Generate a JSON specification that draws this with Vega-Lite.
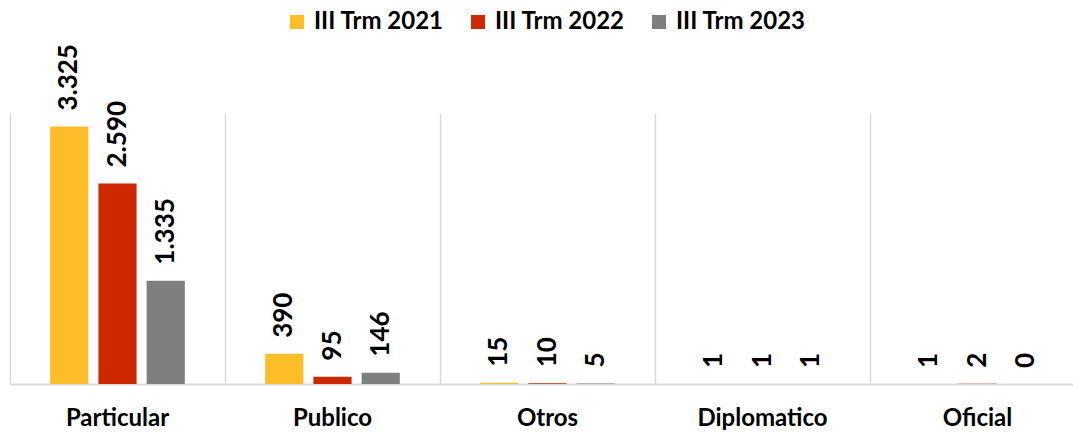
{
  "$schema": "https://vega.github.io/schema/vega-lite/v6.json",
  "width": 1063,
  "height": 271,
  "autosize": {"type": "none"},
  "padding": {"left": 10, "top": 113, "right": 0, "bottom": 48},
  "background": "white",
  "config": {
    "view": {"stroke": null},
    "font": "Lato",
    "locale": {"number": {"decimal": ",", "thousands": ".", "grouping": [3], "currency": ["", ""]}}
  },
  "data": {
    "values": [
      {"cat": "Particular", "serie": "III Trm 2021", "v": 3325},
      {"cat": "Particular", "serie": "III Trm 2022", "v": 2590},
      {"cat": "Particular", "serie": "III Trm 2023", "v": 1335},
      {"cat": "Publico", "serie": "III Trm 2021", "v": 390},
      {"cat": "Publico", "serie": "III Trm 2022", "v": 95},
      {"cat": "Publico", "serie": "III Trm 2023", "v": 146},
      {"cat": "Otros", "serie": "III Trm 2021", "v": 15},
      {"cat": "Otros", "serie": "III Trm 2022", "v": 10},
      {"cat": "Otros", "serie": "III Trm 2023", "v": 5},
      {"cat": "Diplomatico", "serie": "III Trm 2021", "v": 1},
      {"cat": "Diplomatico", "serie": "III Trm 2022", "v": 1},
      {"cat": "Diplomatico", "serie": "III Trm 2023", "v": 1},
      {"cat": "Oficial", "serie": "III Trm 2021", "v": 1},
      {"cat": "Oficial", "serie": "III Trm 2022", "v": 2},
      {"cat": "Oficial", "serie": "III Trm 2023", "v": 0}
    ]
  },
  "encoding": {
    "x": {
      "field": "cat", "type": "nominal", "sort": null,
      "scale": {"range": [0, 1075], "paddingInner": 0, "paddingOuter": 0},
      "axis": {
        "title": null, "labelAngle": 0, "ticks": false,
        "labelFont": "Lato", "labelFontWeight": "bold", "labelFontSize": 24, "labelColor": "#000000",
        "labelPadding": 22,
        "domainColor": "#d9d9d9", "domainWidth": 2,
        "grid": true, "gridColor": "#d9d9d9", "gridWidth": 1.5, "bandPosition": 0
      }
    },
    "xOffset": {
      "field": "serie", "type": "nominal",
      "scale": {"paddingInner": 0.208, "paddingOuter": 0.833}
    },
    "y": {
      "field": "v", "type": "quantitative",
      "scale": {"domain": [0, 3500], "nice": false, "zero": true},
      "axis": null
    }
  },
  "layer": [
    {
      "mark": {"type": "bar"},
      "encoding": {
        "color": {
          "field": "serie", "type": "nominal",
          "scale": {"domain": ["III Trm 2021", "III Trm 2022", "III Trm 2023"], "range": ["#FEBE2A", "#CC2900", "#7F7F7F"]},
          "legend": {
            "title": null, "orient": "none", "direction": "horizontal",
            "legendX": 275, "legendY": -103, "padding": 0,
            "symbolType": "square", "symbolSize": 196, "symbolStrokeWidth": 0,
            "labelFont": "Lato", "labelFontWeight": "bold", "labelFontSize": 24, "labelColor": "#000000",
            "labelOffset": 5, "columnPadding": 22
          }
        }
      }
    },
    {
      "mark": {"type": "text", "angle": 270, "align": "left", "baseline": "middle", "dx": 16,
               "font": "Lato", "fontWeight": "bold", "fontSize": 26, "color": "#000000"},
      "encoding": {
        "text": {"field": "v", "type": "quantitative", "format": ",d"}
      }
    }
  ]
}
